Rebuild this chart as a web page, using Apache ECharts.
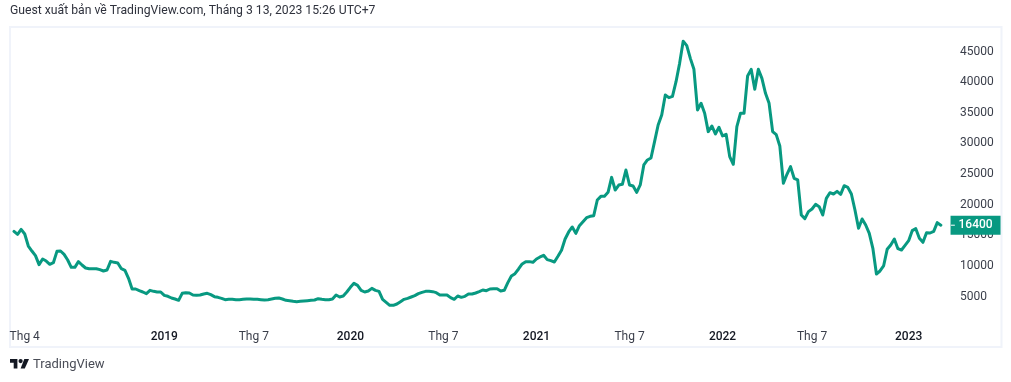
<!DOCTYPE html>
<html><head><meta charset="utf-8">
<style>html,body{margin:0;padding:0;background:#fff}#c{width:1011px;height:382px}</style>
<script src="https://cdn.jsdelivr.net/npm/echarts@6/dist/echarts.min.js"></script>
</head><body><div id="c"></div>
<script>
const startWeek = '2018-03-12';
const values = [
15395,14905,15720,14960,13000,12185,11425,9955,10880,10550,10010,10280,12130,12185,11640,10720,9520,9520,10445,9900,
9410,9300,9300,9300,9140,8920,9085,10500,10335,10230,9300,9030,7725,5985,5985,5710,5495,5220,5765,5600,
5495,5495,4950,4790,4515,4350,4135,
5274,5383,5328,5002,4948,5002,5165,5274,5056,4730,4621,4458,4240,4295,4295,4240,4240,4295,4349,4349,
4295,4295,4240,4186,4240,4349,4458,4512,4349,4132,4077,3968,3914,3968,4023,4077,4132,4186,4404,4295,
4240,4240,4349,5002,4676,
4840,5493,6254,6907,6580,5765,5493,5656,6091,5765,5601,4296,3806,3317,3317,3534,3915,4296,4459,4677,
4894,5221,5438,5601,5601,5547,5384,5003,5003,5003,4568,4296,4840,4622,4785,5166,5166,5329,5547,5819,
5710,5982,6037,6037,
5663,5772,7023,8111,8492,9253,10069,10450,10450,10341,10885,11212,11484,10776,10613,10396,11320,12300,14149,15292,
16108,15074,16325,16978,17631,17848,17957,20514,21112,21112,21765,24213,22146,22962,23071,25410,22962,22799,21765,
22970,26234,27050,27376,30042,32762,34394,37658,37223,37440,39834,42826,46450,45709,43642,41847,35210,36298,34666,31674,
32599,31293,32381,30967,31239,27594,26343,32490,34666,34666,40759,41847,38583,41847,40378,37930,36298,31674,31184,29335,
23242,24710,25962,24058,23786,
18065,17467,18609,19044,19806,19425,18065,20785,21710,21492,21927,21438,22852,22580,21492,18881,15889,17412,16433,15073,
12625,8436,8926,9742,12462,13169,14148,12571,12353,13115,13876,15508,15834,14257,13604,15182,15127,15399,16814,16400
];
const tickWeeks = ['2018-04-02','2018-12-31','2019-06-24','2019-12-30','2020-06-29','2020-12-28','2021-06-28','2021-12-27','2022-06-20','2022-12-26'];
const tickLabels = ['Thg 4','2019','Thg 7','2020','Thg 7','2021','Thg 7','2022','Thg 7','2023'];
const lastPrice = values[values.length - 1];
const titleText = 'Guest xuất bản về TradingView.com, Tháng 3 13, 2023 15:26 UTC+7';
const brandText = 'TradingView';

const weeks = [];
for (let i = 0, t = Date.parse(startWeek + 'T00:00:00Z'); i < values.length + 2; i++, t += 7 * 864e5) {
  weeks.push(new Date(t).toISOString().slice(0, 10));
}
const FONT = 'Roboto, "Noto Sans", sans-serif';
const GREEN = '#089981';
const lastCoord = [weeks[values.length - 1], lastPrice];

const chart = echarts.init(document.getElementById('c'), null, {renderer: 'canvas'});
chart.setOption({
  animation: false,
  textStyle: {fontFamily: FONT},
  grid: {left: 14, width: 934, top: 19.4, height: 306.25, containLabel: false},
  xAxis: {
    type: 'category', data: weeks, boundaryGap: false,
    axisLine: {show: false}, axisTick: {show: false}, splitLine: {show: false},
    axisLabel: {
      interval: (i, v) => tickWeeks.includes(v),
      margin: 5, hideOverlap: false,
      formatter: v => {
        const t = tickLabels[tickWeeks.indexOf(v)];
        return /^\d/.test(t) ? '{y|' + t + '}' : '{m|' + t + '}';
      },
      rich: {
        y: {fontFamily: FONT, fontSize: 12, color: '#131722', fontWeight: 500},
        m: {fontFamily: FONT, fontSize: 12, color: '#3a3e4a'}
      }
    }
  },
  yAxis: {
    type: 'value', position: 'right', min: 0, max: 50000, interval: 5000,
    axisLine: {show: false}, axisTick: {show: false}, splitLine: {show: false},
    axisLabel: {
      margin: 12, align: 'left',
      formatter: v => (v === 0 || v === 50000) ? '' : '{p|' + v + '}',
      rich: {p: {fontFamily: FONT, fontSize: 12, color: '#3a3e4a', padding: [3, 0, 0, 0]}}
    }
  },
  series: [{
    type: 'line', data: values, symbol: 'none', smooth: false,
    lineStyle: {color: GREEN, width: 3, join: 'round', cap: 'round'},
    markPoint: {
      silent: true,
      data: [
        {coord: lastCoord, symbol: 'rect', symbolSize: [50, 19], symbolOffset: [34.7, 0],
         itemStyle: {color: GREEN},
         label: {show: true, position: 'inside', formatter: String(lastPrice), color: '#fff',
                 fontFamily: FONT, fontSize: 12, fontWeight: 500}},
        {coord: lastCoord, symbol: 'rect', symbolSize: [4, 1], symbolOffset: [12, 0],
         itemStyle: {color: '#fff'}, label: {show: false}}
      ]
    }
  }],
  graphic: [
    {type: 'rect', z: -1, shape: {x: 10, y: 27, width: 991.5, height: 320},
     style: {fill: 'none', stroke: '#f0f3fa', lineWidth: 2}},
    {type: 'text', x: 10, y: 5, style: {text: titleText, fontFamily: FONT, fontSize: 12.2, fill: '#2f323d'}},
    {type: 'polygon', shape: {points: [[10,359],[17.4,359],[17.4,368.5],[13.7,368.5],[13.7,362.7],[10,362.7]]}, style: {fill: '#131722'}},
    {type: 'polygon', shape: {points: [[24.3,359],[29,359],[24.8,368.5],[20.6,368.5]]}, style: {fill: '#131722'}},
    {type: 'circle', shape: {cx: 20.6, cy: 361.1, r: 2.1}, style: {fill: '#131722'}},
    {type: 'text', x: 33, y: 358, style: {text: brandText, fontFamily: FONT, fontSize: 13, fill: '#4a4d57'}}
  ]
});
</script></body></html>
